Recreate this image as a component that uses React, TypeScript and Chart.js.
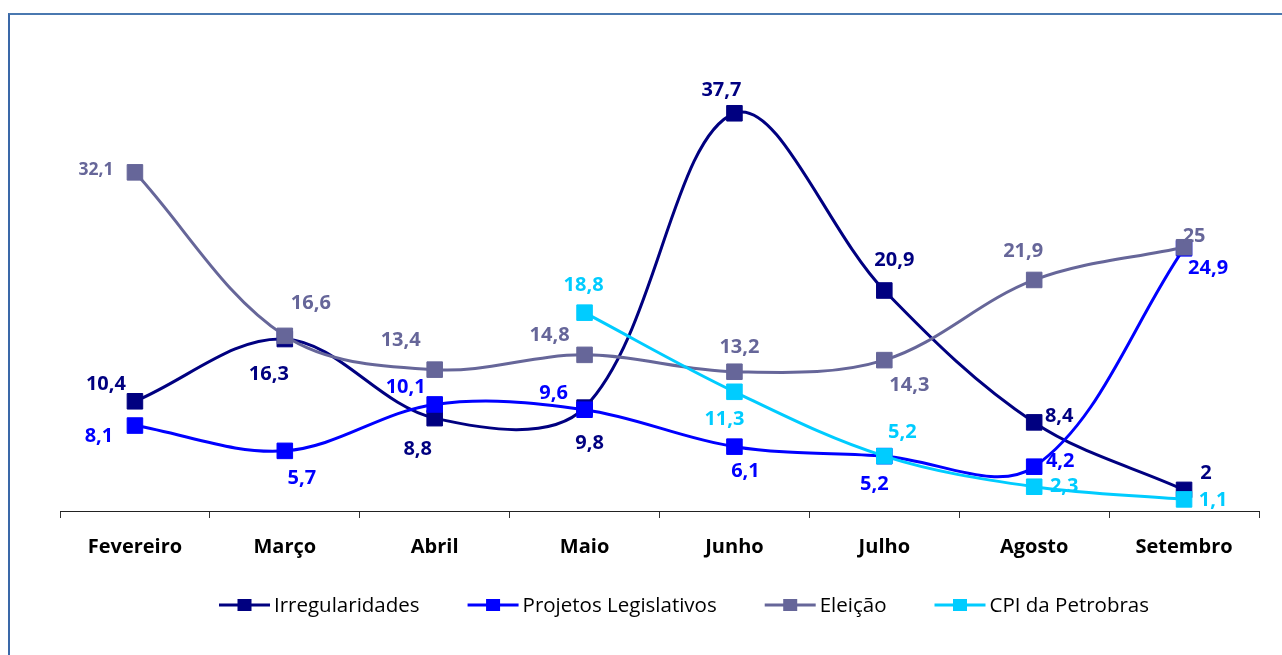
import React, { useEffect, useRef } from 'react';
import { Chart, registerables } from 'chart.js';

Chart.register(...registerables);

// ---- data ----
const categories = ['Fevereiro', 'Março', 'Abril', 'Maio', 'Junho', 'Julho', 'Agosto', 'Setembro'];
const irregularidades = [10.4, 16.3, 8.8, 9.8, 37.7, 20.9, 8.4, 2];
const projetosLegislativos = [8.1, 5.7, 10.1, 9.6, 6.1, 5.2, 4.2, 24.9];
const eleicao = [32.1, 16.6, 13.4, 14.8, 13.2, 14.3, 21.9, 25];
const cpiPetrobras = [null, null, null, 18.8, 11.3, 5.2, 2.3, 1.1];
const seriesNames = ['Irregularidades', 'Projetos Legislativos', 'Eleição', 'CPI da Petrobras'];

// ---- styles ----
const colors = ['#000080', '#0000FF', '#666699', '#00CCFF'];
const FONT = '"Open Sans", "Noto Sans", sans-serif';

// label offsets (text centre relative to the point), per series
const labelOffsets: (number[] | null)[][] = [
  [[-29, -18], [-16, 34], [-17, 30], [5, 35], [-13, -24], [10, -31], [25, -7], [22, -18]],
  [[-36, 10], [17, 26], [-29, -18], [-31, -17], [11, 24], [-10, 27], [26, -6], [24, 19]],
  [[-39, -3], [26, -34], [-34, -30], [-35, -21], [5, -25], [25, 24], [-11, -30], [10, -12]],
  [null, null, null, [-1, -28], [-10, 27], [18, -25], [30, -1], [29, 0]],
];

const fmt = (v: number) => String(v).replace('.', ',');

const dataLabelsPlugin = {
  id: 'customDataLabels',
  afterDatasetsDraw(chart: any) {
    const ctx = chart.ctx;
    ctx.save();
    ctx.textAlign = 'center';
    ctx.textBaseline = 'middle';
    chart.data.datasets.forEach((ds: any, di: number) => {
      const meta = chart.getDatasetMeta(di);
      meta.data.forEach((pt: any, i: number) => {
        const v = ds.data[i];
        const off = labelOffsets[di][i];
        if (v == null || !off) return;
        const size = di === 2 && i === 0 ? 17.5 : 20;
        ctx.font = `bold ${size}px ${FONT}`;
        ctx.fillStyle = colors[di];
        ctx.fillText(fmt(v), pt.x + off[0], pt.y + off[1] + 1);
      });
    });
    ctx.restore();
  },
};

const legendPlugin = {
  id: 'customLegend',
  afterDraw(chart: any) {
    const ctx = chart.ctx;
    ctx.save();
    ctx.font = `20.5px ${FONT}`;
    const symW = 51;
    const gap = 4;
    const spacing = 48;
    const widths = seriesNames.map((n) => ctx.measureText(n).width);
    const total = widths.reduce((a, w) => a + symW + gap + w, 0) + spacing * (seriesNames.length - 1);
    let x = 684 - total / 2;
    const y = 605;
    seriesNames.forEach((name, i) => {
      ctx.strokeStyle = colors[i];
      ctx.lineWidth = 3;
      ctx.beginPath();
      ctx.moveTo(x, y);
      ctx.lineTo(x + symW, y);
      ctx.stroke();
      ctx.fillStyle = colors[i];
      ctx.fillRect(x + symW / 2 - 7, y - 6, 14, 12);
      ctx.fillStyle = '#000';
      ctx.textAlign = 'left';
      ctx.textBaseline = 'middle';
      ctx.fillText(name, x + symW + gap, y + 1);
      x += symW + gap + widths[i] + spacing;
    });
    ctx.restore();
  },
};

const seriesData = [irregularidades, projetosLegislativos, eleicao, cpiPetrobras];

export default function App() {
  const ref = useRef<HTMLCanvasElement>(null);

  useEffect(() => {
    document.body.style.overflow = 'hidden';
    let chart: Chart | null = null;
    let cancelled = false;
    const make = () => {
      if (cancelled || !ref.current) return;
      chart = new Chart(ref.current, {
        type: 'line',
        data: {
          labels: categories,
          datasets: seriesData.map((d, i) => ({
            label: seriesNames[i],
            data: d as any,
            borderColor: colors[i],
            backgroundColor: colors[i],
            borderWidth: 3,
            pointStyle: 'rect',
            pointRadius: 11,
            pointBorderWidth: 1,
            pointBackgroundColor: colors[i],
            pointBorderColor: colors[i],
            tension: 0.35,
            fill: false,
            order: 3 - i,
          })),
        },
        options: {
          responsive: false,
          animation: false,
          events: [],
          layout: { padding: { left: 60, right: 23, top: 89, bottom: 84 } },
          plugins: {
            legend: { display: false },
            tooltip: { enabled: false },
            title: { display: false },
          },
          scales: {
            y: { display: false, min: 0, max: 40 },
            x: {
              offset: true,
              afterFit: (scale: any) => {
                scale.height = 60;
              },
              grid: {
                offset: true,
                drawOnChartArea: false,
                drawTicks: true,
                tickLength: 7,
                color: '#333',
                lineWidth: 1,
              },
              border: { display: true, color: '#222', width: 1 },
              ticks: {
                color: '#000',
                padding: 17,
                maxRotation: 0,
                autoSkip: false,
                font: { family: FONT, size: 20, weight: 'bold' },
              },
            },
          },
        },
        plugins: [dataLabelsPlugin, legendPlugin],
      } as any);
    };
    const loads = [
      (document as any).fonts?.load(`bold 20px ${FONT}`),
      (document as any).fonts?.load(`20px ${FONT}`),
    ];
    Promise.all(loads).catch(() => {}).then(make);
    return () => {
      cancelled = true;
      if (chart) chart.destroy();
    };
  }, []);

  return (
    <div style={{ position: 'absolute', left: 0, top: 0, width: 1282, height: 655, overflow: 'hidden', background: '#fff' }}>
      <div
        style={{
          position: 'absolute',
          left: 8,
          top: 13,
          width: 1300,
          height: 700,
          borderTop: '2px solid #4a78b0',
          borderLeft: '2px solid #3a68a8',
        }}
      />
      <canvas
        ref={ref}
        width={1282}
        height={655}
        style={{ position: 'absolute', left: 0, top: 0, width: 1282, height: 655 }}
      />
    </div>
  );
}
